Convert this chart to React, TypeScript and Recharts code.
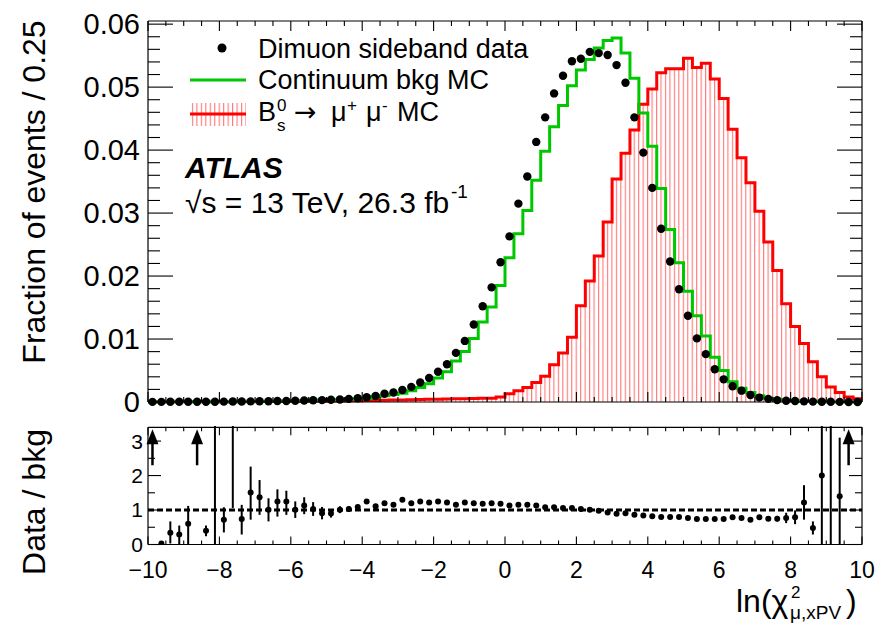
import React from 'react';
import {
  ComposedChart,
  Area,
  Line,
  Scatter,
  XAxis,
  YAxis,
  ErrorBar,
  ReferenceLine,
} from 'recharts';

const FONT = '"Liberation Sans", Arial, Helvetica, sans-serif';
const GREEN = '#00c800';
const RED = '#ff0000';
const HATCH = '#ff6a6a';

const BIN = 0.25;
// bin centres (-9.875 ... 9.875) and edges (-10 ... 10)
const binCenters = Array.from({ length: 80 }, (_, i) => -10 + BIN * (i + 0.5));
const binEdges = Array.from({ length: 81 }, (_, i) => -10 + BIN * i);

// fraction of events per bin
const sidebandData = [
  0.00002, 0.00002, 0.00003, 0.00003, 0.00004, 0.00004, 0.00005, 0.00005, 0.00006, 0.00007,
  0.00008, 0.0001, 0.00011, 0.00013, 0.00015, 0.00017, 0.0002, 0.00023, 0.00027, 0.0003,
  0.00035, 0.0004, 0.0005, 0.0006, 0.00075, 0.00096, 0.0013, 0.0015, 0.0019, 0.0024,
  0.0031, 0.0038, 0.0048, 0.006, 0.0078, 0.0097, 0.0123, 0.0152, 0.0182, 0.0222,
  0.0263, 0.0315, 0.0358, 0.0413, 0.0452, 0.049, 0.0518, 0.0541, 0.0545, 0.0556,
  0.0554, 0.0551, 0.0535, 0.0507, 0.0452, 0.0396, 0.034, 0.0275, 0.0223, 0.0179,
  0.0137, 0.0101, 0.0076, 0.0052, 0.0036, 0.0025, 0.0018, 0.0011, 0.0007, 0.0005,
  0.0003, 0.0002, 0.00015, 0.0001, 0.00006, 0.00004, 0.00003, 0.00002, 0.00001, 0.00001,
];

const continuumMC = [
  0.00001, 0.00005, 0.00008, 0.0001, 0.00007, 0.00002, 0.00012, 0.00001, 0.00008, 0.00001,
  0.0001, 0.00007, 0.00008, 0.00013, 0.00012, 0.00014, 0.0002, 0.0002, 0.00026, 0.00033,
  0.00032, 0.00037, 0.00045, 0.00052, 0.0006, 0.00082, 0.001, 0.0012, 0.0014, 0.0018,
  0.0023, 0.0029, 0.0038, 0.0048, 0.0065, 0.008, 0.0101, 0.0127, 0.0151, 0.0185,
  0.0229, 0.0267, 0.0304, 0.0352, 0.0398, 0.0437, 0.0471, 0.0502, 0.0527, 0.0544,
  0.0562, 0.0574, 0.0578, 0.0554, 0.0514, 0.0459, 0.0406, 0.0339, 0.0274, 0.0221,
  0.0176, 0.0137, 0.0105, 0.0071, 0.005, 0.0032, 0.0022, 0.0015, 0.001, 0.0006,
  0.0004, 0.00026, 0.00019, 0.00008, 0.00012, 0.00002, 0.00001, 0.00001, 0, 0,
];

const signalMC = [
  0.00001, 0.00001, 0.00001, 0.00002, 0.00002, 0.00002, 0.00003, 0.00003, 0.00004, 0.00004,
  0.00005, 0.00005, 0.00006, 0.00006, 0.00007, 0.00008, 0.00009, 0.0001, 0.00011, 0.00012,
  0.00014, 0.00016, 0.00018, 0.0002, 0.00022, 0.00025, 0.00028, 0.0003, 0.00033, 0.00036,
  0.0004, 0.00042, 0.00045, 0.00048, 0.0005, 0.00053, 0.00056, 0.0006, 0.0006, 0.0008,
  0.0013, 0.0018, 0.0023, 0.0031, 0.0041, 0.0059, 0.0078, 0.0103, 0.0153, 0.0192,
  0.0232, 0.0286, 0.0354, 0.0395, 0.0432, 0.0473, 0.0497, 0.0523, 0.0529, 0.0529,
  0.0546, 0.0531, 0.0538, 0.0513, 0.0482, 0.0433, 0.0388, 0.0348, 0.0303, 0.0254,
  0.0209, 0.0156, 0.012, 0.0093, 0.0064, 0.004, 0.0024, 0.0015, 0.0008, 0.0005,
];

// data / bkg, null where no marker is drawn
const ratio = [
  null, 0.03, 0.34, 0.29, 0.6, null, 0.4, 6, 0.72, 5,
  0.74, 1.51, 1.37, 1.01, 1.25, 1.25, 1.01, 1.13, 1.03, 0.91,
  0.9, 1.01, 1.03, 1.09, 1.25, 1.11, 1.2, 1.15, 1.3, 1.2,
  1.25, 1.22, 1.25, 1.22, 1.15, 1.22, 1.2, 1.18, 1.2, 1.18,
  1.13, 1.15, 1.15, 1.13, 1.08, 1.08, 1.06, 1.06, 1.03, 1.01,
  0.98, 0.93, 0.89, 0.91, 0.86, 0.84, 0.82, 0.8, 0.8, 0.8,
  0.77, 0.74, 0.74, 0.74, 0.74, 0.79, 0.77, 0.72, 0.79, 0.75,
  0.75, 0.77, 0.79, 1.22, 0.48, 2.0, 6, 1.4, null, null,
];

const ratioErrLo = [
  0, 0, 0.31, 0.29, 0.6, 0, 0.16, 6, 0.37, 3.94,
  0.45, 0.79, 0.51, 0.34, 0.44, 0.39, 0.24, 0.25, 0.2, 0.18,
  0.12, 0.1, 0.08, 0.06, 0.05, 0.05, 0.04, 0.04, 0.03, 0.03,
  0.03, 0.02, 0.02, 0.02, 0.02, 0.02, 0.02, 0.02, 0.02, 0.02,
  0.02, 0.02, 0.02, 0.02, 0.02, 0.02, 0.02, 0.02, 0.02, 0.02,
  0.02, 0.02, 0.02, 0.02, 0.02, 0.02, 0.02, 0.02, 0.02, 0.02,
  0.02, 0.02, 0.02, 0.02, 0.03, 0.03, 0.03, 0.04, 0.04, 0.05,
  0.08, 0.15, 0.2, 0.5, 0.19, 2.0, 6, 1.4, 0, 0,
];

const ratioErrHi = [
  0, 0, 0.33, 0.26, 0.52, 0, 0.15, 1, 0.36, 1,
  0.41, 0.75, 0.5, 0.33, 0.35, 0.31, 0.24, 0.24, 0.2, 0.18,
  0.12, 0.1, 0.08, 0.06, 0.05, 0.05, 0.04, 0.04, 0.03, 0.03,
  0.03, 0.02, 0.02, 0.02, 0.02, 0.02, 0.02, 0.02, 0.02, 0.02,
  0.02, 0.02, 0.02, 0.02, 0.02, 0.02, 0.02, 0.02, 0.02, 0.02,
  0.02, 0.02, 0.02, 0.02, 0.02, 0.02, 0.02, 0.02, 0.02, 0.02,
  0.02, 0.02, 0.02, 0.02, 0.03, 0.03, 0.03, 0.04, 0.04, 0.05,
  0.08, 0.15, 0.2, 0.5, 0.19, 3, 1, 1.7, 0, 0,
];

// bins whose ratio is off scale (drawn as arrows)
const arrowBins = [-9.875, -8.625, 9.625];

const xMajor = [-10, -8, -6, -4, -2, 0, 2, 4, 6, 8, 10];
const xMinor = Array.from({ length: 41 }, (_, i) => -10 + 0.5 * i);
const yTopMajor = [0, 0.01, 0.02, 0.03, 0.04, 0.05, 0.06];
const yTopMinor = Array.from({ length: 31 }, (_, i) => 0.002 * i);
const yRatioMajor = [0, 1, 2, 3];
const yRatioMinor = [0, 0.5, 1, 1.5, 2, 2.5, 3];

const X_DOMAIN = [-10, 10];
const Y_TOP_DOMAIN = [0, 0.0605];
const Y_RATIO_DOMAIN = [0, 3.4];

const histRows = binEdges.map((x, i) => ({
  x,
  bkg: continuumMC[Math.min(i, 79)],
  sig: signalMC[Math.min(i, 79)],
}));
const dataPoints = binCenters.map((x, i) => ({ x, v: sidebandData[i] }));
const ratioPoints = binCenters
  .map((x, i) => ({ x, r: ratio[i], err: [ratioErrLo[i], ratioErrHi[i]] }))
  .filter((p) => p.r !== null);
const arrowPoints = arrowBins.map((x) => ({ x, r: Y_RATIO_DOMAIN[1] }));

const minusFmt = (v: number) => (v < 0 ? `\u2212${-v}` : `${v}`);
const isMajor = (v: number, step: number) => Math.abs(v / step - Math.round(v / step)) < 1e-6;

// tick positions for the inward ROOT-style ticks, placed through the chart scales
const xTickRows = (key: string, y: number) => xMinor.map((x) => ({ x, [key]: y, major: isMajor(x, 2) }));
const yTickRows = (key: string, x: number, vals: number[], step: number) =>
  vals.map((v) => ({ x, [key]: v, major: isMajor(v, step) }));
const xLabelRows = xMajor.map((x) => ({ x, r: 0, label: minusFmt(x) }));

const FRAME = { stroke: '#000', strokeWidth: 1.2 };
const THIN = 0.01; // axes need a non-zero size to be drawn

type Dir = 'up' | 'down' | 'left' | 'right';
const tickShape = (dir: Dir, major: number, minor: number) => (p: any) => {
  const len = p.payload && p.payload.major ? major : minor;
  const dx = dir === 'right' ? len : dir === 'left' ? -len : 0;
  const dy = dir === 'down' ? len : dir === 'up' ? -len : 0;
  return <line x1={p.cx} y1={p.cy} x2={p.cx + dx} y2={p.cy + dy} stroke="#000" strokeWidth={1.1} />;
};

const XLabel = (p: any) => (
  <text x={p.cx} y={p.cy + 33} textAnchor="middle" fontSize={23} fontFamily={FONT} fill="#000">
    {p.payload ? p.payload.label : ''}
  </text>
);

// frame lines only
function frameAxes(key: string, yDomain: number[]) {
  const base = { type: 'number' as const, mirror: true, tick: false, tickLine: false, axisLine: FRAME };
  return [
    <XAxis key="xb" xAxisId="x" dataKey="x" orientation="bottom" height={THIN} domain={X_DOMAIN} ticks={xMajor} {...base} />,
    <XAxis key="xt" xAxisId="xt" dataKey="x" orientation="top" height={THIN} domain={X_DOMAIN} ticks={xMajor} {...base} />,
    <YAxis key="yl" yAxisId="yl" dataKey={key} orientation="left" width={THIN} domain={yDomain} ticks={yDomain} {...base} />,
    <YAxis key="yr" yAxisId="yr" dataKey={key} orientation="right" width={THIN} domain={yDomain} ticks={yDomain} {...base} />,
  ];
}

function tickScatters(key: string, yDomain: number[], yMinor: number[], yStep: number, l: number[]) {
  const [xMaj, xMin, yMaj, yMin] = l;
  const common = { xAxisId: 'x', yAxisId: 'yl', dataKey: key, isAnimationActive: false };
  return [
    <Scatter key="tb" data={xTickRows(key, yDomain[0])} shape={tickShape('up', xMaj, xMin)} {...common} />,
    <Scatter key="tt" data={xTickRows(key, yDomain[1])} shape={tickShape('down', xMaj, xMin)} {...common} />,
    <Scatter key="tl" data={yTickRows(key, X_DOMAIN[0], yMinor, yStep)} shape={tickShape('right', yMaj, yMin)} {...common} />,
    <Scatter key="tr" data={yTickRows(key, X_DOMAIN[1], yMinor, yStep)} shape={tickShape('left', yMaj, yMin)} {...common} />,
  ];
}

const DataDot = (p: any) => <circle cx={p.cx} cy={p.cy} r={4.2} fill="#000" />;
const RatioDot = (p: any) => <circle cx={p.cx} cy={p.cy} r={3} fill="#000" />;
const UpArrow = (p: any) => (
  <g>
    <line x1={p.cx} x2={p.cx} y1={p.cy + 12} y2={p.cy + 38} stroke="#000" strokeWidth={2.5} />
    <polygon points={`${p.cx},${p.cy + 2} ${p.cx - 6},${p.cy + 17} ${p.cx + 6},${p.cy + 17}`} fill="#000" />
  </g>
);

const labelTick = (size: number) => ({ fill: '#000', fontSize: size, fontFamily: FONT });

export default function App() {
  return (
    <div style={{ position: 'absolute', left: 0, top: 0, width: 881, height: 624, background: '#fff', fontFamily: FONT }}>
      <div style={{ position: 'absolute', left: 0, top: 0 }}>
        <ComposedChart width={881} height={420} data={histRows} margin={{ top: 21, right: 19, bottom: 18, left: 148 }}>
          <defs>
            <pattern id="sigHatch" patternUnits="userSpaceOnUse" width={4.4625} height={12}>
              <line x1={0.6} y1={0} x2={0.6} y2={12} stroke={HATCH} strokeWidth={1} />
            </pattern>
          </defs>
          {frameAxes('v', Y_TOP_DOMAIN)}
          <YAxis
            yAxisId="y"
            dataKey="v"
            type="number"
            domain={Y_TOP_DOMAIN}
            ticks={yTopMajor}
            width={THIN}
            tickSize={0}
            tickLine={false}
            axisLine={false}
            tickMargin={8}
            interval={0}
            tick={labelTick(29)}
            tickFormatter={(v: number) => (v === 0 ? '0' : v.toFixed(2))}
          />
          <Area
            xAxisId="x"
            yAxisId="y"
            type="stepAfter"
            dataKey="sig"
            stroke={RED}
            strokeWidth={3}
            fill="url(#sigHatch)"
            fillOpacity={1}
            dot={false}
            activeDot={false}
            isAnimationActive={false}
          />
          <Line
            xAxisId="x"
            yAxisId="y"
            type="stepAfter"
            dataKey="bkg"
            stroke={GREEN}
            strokeWidth={3}
            dot={false}
            activeDot={false}
            isAnimationActive={false}
          />
          {tickScatters('v', Y_TOP_DOMAIN, yTopMinor, 0.01, [10, 5, 25, 12])}
          <Scatter xAxisId="x" yAxisId="y" data={dataPoints} dataKey="v" shape={DataDot} isAnimationActive={false} />
        </ComposedChart>
      </div>

      {/* ratio panel: the svg starts at the frame top so off-scale error bars are cut there */}
      <div style={{ position: 'absolute', left: 0, top: 426 }}>
        <ComposedChart width={881} height={198} margin={{ top: 1.3, right: 19, bottom: 79.5, left: 148 }}>
          {frameAxes('r', Y_RATIO_DOMAIN)}
          <YAxis
            yAxisId="y"
            dataKey="r"
            type="number"
            domain={Y_RATIO_DOMAIN}
            allowDataOverflow
            ticks={yRatioMajor}
            width={THIN}
            tickSize={0}
            tickLine={false}
            axisLine={false}
            tickMargin={5}
            interval={0}
            tick={labelTick(21)}
          />
          <ReferenceLine xAxisId="x" yAxisId="y" y={1} stroke="#000" strokeWidth={3} strokeDasharray="6 3" />
          {tickScatters('r', Y_RATIO_DOMAIN, yRatioMinor, 1, [8, 4, 13, 7])}
          <Scatter xAxisId="x" yAxisId="yl" data={xLabelRows} dataKey="r" shape={XLabel} isAnimationActive={false} />
          <Scatter xAxisId="x" yAxisId="y" data={ratioPoints} dataKey="r" shape={RatioDot} isAnimationActive={false}>
            <ErrorBar dataKey="err" direction="y" width={0} stroke="#000" strokeWidth={2} isAnimationActive={false} />
          </Scatter>
          <Scatter xAxisId="x" yAxisId="y" data={arrowPoints} dataKey="r" shape={UpArrow} isAnimationActive={false} />
        </ComposedChart>
      </div>

      <svg width={881} height={624} style={{ position: 'absolute', left: 0, top: 0, pointerEvents: 'none' }} fontFamily={FONT} fill="#000">
        <defs>
          <pattern id="legHatch" patternUnits="userSpaceOnUse" width={4.4625} height={12}>
            <line x1={0.6} y1={0} x2={0.6} y2={12} stroke={HATCH} strokeWidth={1} />
          </pattern>
        </defs>

        <text transform="translate(45,192) rotate(-90)" textAnchor="middle" fontSize={32}>
          Fraction of events / 0.25
        </text>
        <text transform="translate(45,502) rotate(-90)" textAnchor="middle" fontSize={32}>
          Data / bkg
        </text>

        {/* legend */}
        <circle cx={222} cy={48} r={4.5} fill="#000" />
        <text x={258} y={58} fontSize={27}>Dimuon sideband data</text>
        <line x1={190} x2={246} y1={80} y2={80} stroke={GREEN} strokeWidth={3} />
        <text x={258} y={89} fontSize={27}>Continuum bkg MC</text>
        <rect x={190} y={103} width={56} height={23} fill="url(#legHatch)" />
        <line x1={190} x2={246} y1={114} y2={114} stroke={RED} strokeWidth={3} />
        <text fontSize={27}>
          <tspan x={258} y={121}>B</tspan>
          <tspan x={277} y={111} fontSize={17}>0</tspan>
          <tspan x={277} y={131} fontSize={17}>s</tspan>
          <tspan x={294} y={121} fontFamily="DejaVu Sans">{'\u2192'}</tspan>
          <tspan x={331} y={121}>{'\u03bc'}</tspan>
          <tspan x={347} y={111} fontSize={17}>+</tspan>
          <tspan x={366} y={121}>{'\u03bc'}</tspan>
          <tspan x={382} y={111} fontSize={17}>-</tspan>
          <tspan x={397} y={121}>MC</tspan>
        </text>

        {/* experiment label */}
        <text x={185} y={178} fontSize={30} fontWeight="bold" fontStyle="italic">ATLAS</text>
        <text fontSize={30}>
          <tspan x={185} y={213}>{'\u221as = 13 TeV, 26.3 fb'}</tspan>
          <tspan x={451} y={198} fontSize={19}>-1</tspan>
        </text>

        {/* x-axis title */}
        <text fontSize={32}>
          <tspan x={736} y={612}>{'ln(\u03c7'}</tspan>
          <tspan x={791} y={598} fontSize={17}>2</tspan>
          <tspan x={790} y={619} fontSize={19}>{'\u03bc,xPV'}</tspan>
          <tspan x={846} y={612}>)</tspan>
        </text>
      </svg>
    </div>
  );
}
